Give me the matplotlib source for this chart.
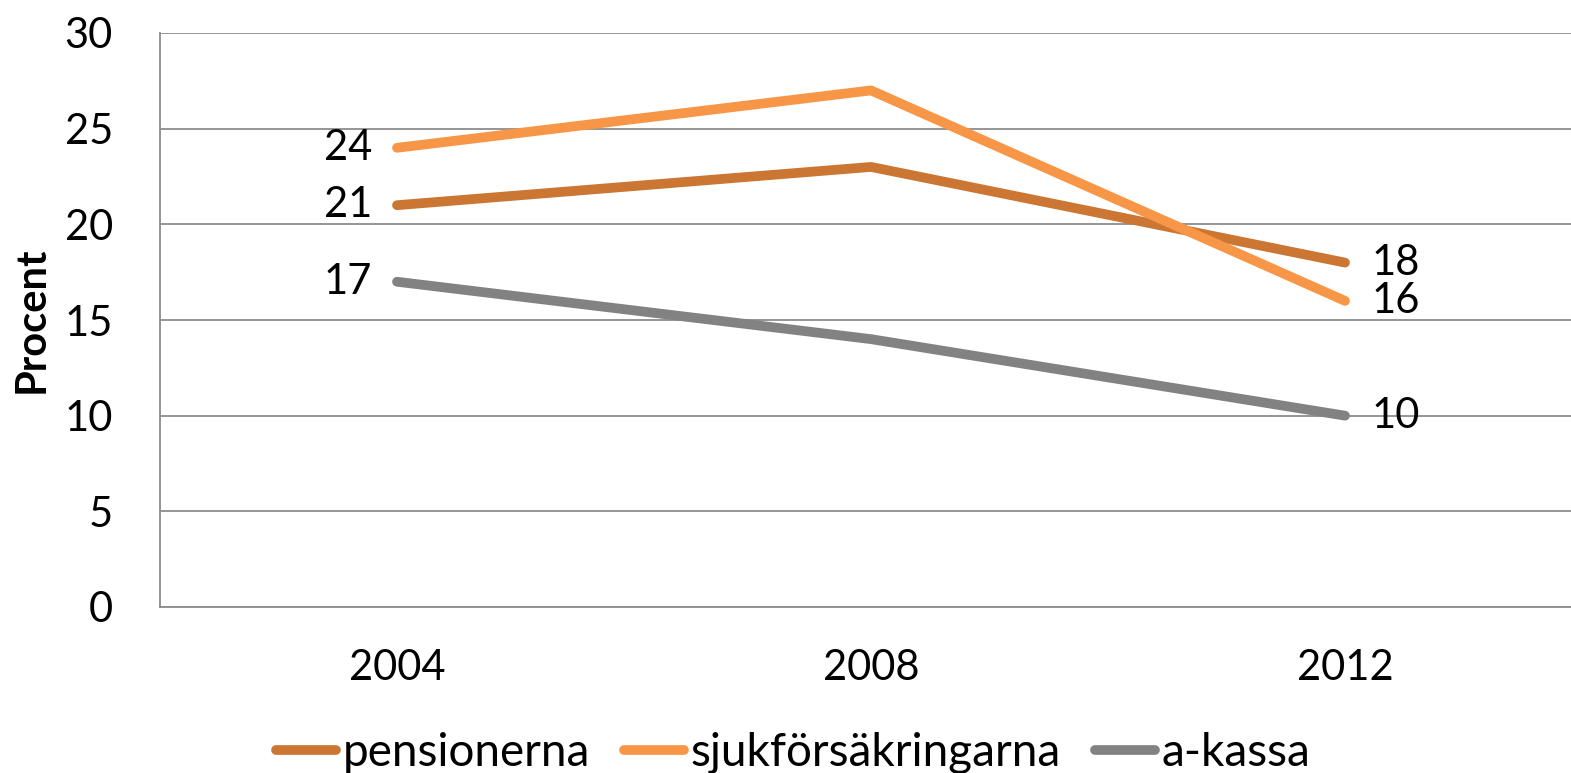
import matplotlib
matplotlib.use("Agg")
import matplotlib.pyplot as plt

plt.rcParams['font.family'] = ['Lato', 'DejaVu Sans']

years = ['2004', '2008', '2012']
pensionerna = [21, 23, 18]
sjukforsakringarna = [24, 27, 16]
a_kassa = [17, 14, 10]

series = [
    ('pensionerna', pensionerna, '#CB7633'),
    ('sjukförsäkringarna', sjukforsakringarna, '#F79646'),
    ('a-kassa', a_kassa, '#828282'),
]

fig = plt.figure(figsize=(15.71, 7.73), dpi=100)
ax = fig.add_axes([160 / 1571, 166 / 773, 1422 / 1571, 574 / 773])

x = list(range(len(years)))
for name, vals, col in series:
    ax.plot(x, vals, color=col, lw=7, solid_capstyle='round', label=name, zorder=3)
    # labels only at the first and last point
    ax.annotate(str(vals[0]), (x[0], vals[0]), xytext=(-18, 0), textcoords='offset points',
                ha='right', va='center', fontsize=30)
    ax.annotate(str(vals[-1]), (x[-1], vals[-1]), xytext=(19, 0), textcoords='offset points',
                ha='left', va='center', fontsize=30)

ax.set_xlim(-0.5, 2.5)
ax.set_ylim(0, 30)
ax.set_yticks(range(0, 31, 5))
ax.set_xticks(x)
ax.set_xticklabels(years)
ax.tick_params(axis='both', length=0, labelsize=30)
ax.tick_params(axis='y', pad=34)
ax.tick_params(axis='x', pad=30)
ax.grid(axis='y', color='#8C8C8C', lw=1.3)
ax.set_axisbelow(True)
for s in ['top', 'right']:
    ax.spines[s].set_visible(False)
for s in ['left', 'bottom']:
    ax.spines[s].set_color('#8C8C8C')
    ax.spines[s].set_linewidth(1.3)

ax.set_ylabel('Procent', fontsize=30, fontweight='bold')
ax.yaxis.set_label_coords(-0.077, 0.5)

fig.legend(loc='center', bbox_to_anchor=(0.505, 0.026), ncol=3, frameon=False,
           fontsize=33, handlelength=1.3, handletextpad=0.15, columnspacing=0.75)

fig.savefig('out.png', dpi=100)
